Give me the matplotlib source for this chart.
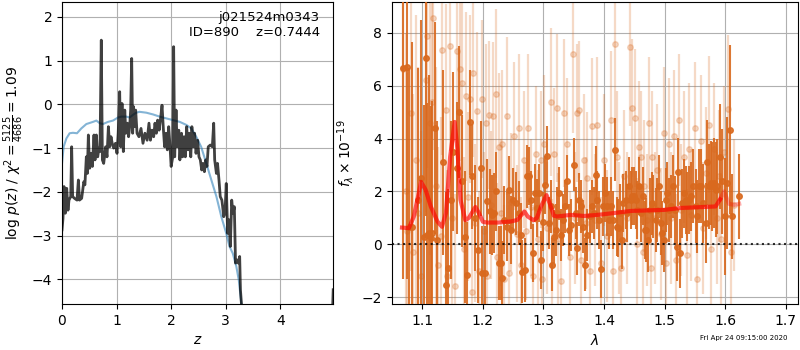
import numpy as np
import matplotlib
matplotlib.use('Agg')
import matplotlib.pyplot as plt

## p(z) panel
z_pz = [0.0, 0.018, 0.037, 0.061, 0.086, 0.11, 0.128, 0.16, 0.177, 0.195, 0.23, 0.275,
        0.30, 0.32, 0.36, 0.40, 0.42, 0.446, 0.464, 0.483, 0.507, 0.53, 0.556, 0.586,
        0.605, 0.63, 0.654, 0.678, 0.696, 0.72, 0.74, 0.764, 0.80, 0.825, 0.85, 0.874,
        0.898, 0.92, 0.947, 0.98, 1.008, 1.03, 1.057, 1.075, 1.10, 1.124, 1.15, 1.17,
        1.197, 1.22, 1.24, 1.258, 1.277, 1.295, 1.31, 1.33, 1.35, 1.375, 1.41, 1.448,
        1.484, 1.52, 1.56, 1.594, 1.62, 1.65, 1.68, 1.704, 1.73, 1.753, 1.78, 1.81,
        1.833, 1.857, 1.88, 1.906, 1.93, 1.955, 1.98, 2.0, 2.03, 2.046, 2.065, 2.09,
        2.11, 2.14, 2.16, 2.19, 2.21, 2.236, 2.26, 2.285, 2.31, 2.33, 2.36, 2.38, 2.41,
        2.43, 2.456, 2.486, 2.51, 2.535, 2.56, 2.584, 2.61, 2.633, 2.657, 2.68, 2.718,
        2.755, 2.78, 2.798, 2.83, 2.85, 2.877, 2.90, 2.93, 2.944, 2.963, 2.987, 3.01,
        3.036, 3.06, 3.085, 3.11, 3.134, 3.158, 3.18, 3.21, 3.23, 3.256, 3.27, 3.29,
        3.35, 4.0, 4.9, 4.97]
logpz = [-2.87, -2.61, -1.88, -2.49, -1.92, -2.42, -2.19, -2.11, -0.97, -2.11, -2.15, -2.19,
         -1.73, -2.19, -2.15, -1.77, -1.84, -1.20, -1.58, -0.70, -1.46, -1.12, -1.42, -0.70,
         -1.27, -0.70, -1.20, -1.00, -1.08, 1.47, -1.27, -1.35, -0.97, -1.20, -0.51, -0.97,
         -0.74, -0.89, -1.00, -0.89, -1.12, -0.66, 0.29, -0.97, 0.02, -1.08, -0.13, -0.66,
         -0.43, -0.74, -0.51, -0.13, 1.05, -0.66, -0.05, -0.51, -0.13, -0.66, -0.74, -0.55,
         -0.89, -0.66, -0.82, -0.43, -0.82, -0.59, -0.74, -0.43, -0.66, -0.36, -0.59, -0.28,
         -0.02, -0.55, -0.97, -0.66, -1.04, -0.51, -0.97, -1.42, -1.20, 1.32, -1.20, -0.13,
         -0.97, -0.59, -1.27, -0.66, -1.20, -0.74, -1.20, -0.51, -1.04, -0.66, -1.20, -0.51, -0.97,
         -0.66, -1.12, -0.82, -1.20, -1.27, -1.50, -1.35, -1.54, -1.27, -1.42, -0.97, -0.93,
         -0.97, -0.43, -1.27, -1.58, -1.35, -1.73, -2.11, -2.19, -2.34, -2.57, -2.49, -1.81,
         -2.95, -2.64, -3.25, -2.19, -2.49, -2.34, -3.63, -3.56, -3.63, -3.48, -4.24, -4.59,
         -6.5, -9.0, -7.0, -4.24]

z_prior = [0.0, 0.03, 0.08, 0.14, 0.2, 0.275, 0.354, 0.446, 0.568, 0.63, 0.69, 0.75, 0.843,
           0.935, 1.026, 1.087, 1.18, 1.24, 1.30, 1.36, 1.42, 1.545, 1.668, 1.79, 1.91, 2.034,
           2.157, 2.28, 2.37, 2.46, 2.55, 2.645, 2.737, 2.83, 2.92, 3.01, 3.07, 3.13, 3.195,
           3.24, 3.29, 3.35]
logprior = [-1.35, -0.97, -0.78, -0.66, -0.65, -0.66, -0.55, -0.45, -0.40, -0.37, -0.43,
            -0.45, -0.40, -0.37, -0.30, -0.28, -0.28, -0.30, -0.24, -0.19, -0.17, -0.19, -0.23,
            -0.28, -0.32, -0.36, -0.40, -0.47, -0.55, -0.74, -0.97, -1.35, -1.73, -2.11, -2.57,
            -2.95, -3.25, -3.41, -3.71, -4.02, -4.59, -5.5]

## spectrum panel, high weight points
wave_a = [1.0687, 1.0742, 1.0780, 1.0835, 1.0929, 1.0973, 1.1028, 1.1055, 1.1083, 1.1110,
          1.1138, 1.1165, 1.1204, 1.1248, 1.1341, 1.1385, 1.1424, 1.1468, 1.1512, 1.1567,
          1.1605, 1.1660, 1.1704, 1.1743, 1.1787, 1.1825, 1.1869, 1.1924, 1.1963, 1.1990,
          1.2029, 1.2073, 1.2117, 1.2155, 1.2183, 1.2221, 1.2265, 1.2293, 1.2320, 1.2348,
          1.2392, 1.2430, 1.2458, 1.2502, 1.2540, 1.2595, 1.2623, 1.2650, 1.2694, 1.2733,
          1.2760, 1.2788, 1.2826, 1.2854, 1.2887, 1.2925, 1.2958, 1.2997, 1.3024, 1.3052,
          1.3090, 1.3118, 1.3140, 1.3173, 1.3200, 1.3228, 1.3255, 1.3283, 1.3321, 1.3354,
          1.3393, 1.3420, 1.3448, 1.3503, 1.3536, 1.3558, 1.3591, 1.3624, 1.3657, 1.3685,
          1.3723, 1.3767, 1.3805, 1.3833, 1.3866, 1.3888, 1.3921, 1.3954, 1.3987, 1.4014,
          1.4053, 1.4086, 1.4119, 1.4152, 1.4179, 1.4207, 1.4229, 1.4262, 1.4289, 1.4317,
          1.4355, 1.4383, 1.4410, 1.4438, 1.4465, 1.4493, 1.4520, 1.4548, 1.4575, 1.4603,
          1.4636, 1.4669, 1.4696, 1.4724, 1.4757, 1.4784, 1.4812, 1.4850, 1.4878, 1.4905,
          1.4933, 1.4960, 1.4988, 1.5015, 1.5043, 1.5070, 1.5098, 1.5131, 1.5164, 1.5197,
          1.5219, 1.5252, 1.5290, 1.5318, 1.5345, 1.5373, 1.5400, 1.5428, 1.5472, 1.5510,
          1.5538, 1.5565, 1.5604, 1.5637, 1.5675, 1.5703, 1.5730, 1.5758, 1.5785, 1.5813,
          1.5840, 1.5868, 1.5912, 1.5950, 1.5994, 1.6033, 1.6071, 1.6115, 1.6225]
flux_a = [6.68, 6.70, 0.67, 0.67, 1.68, 2.50, 0.29, 7.05, 0.35, 0.42, 0.23, 0.42, 4.40, 0.16,
          3.11, -1.54, -0.91, 1.68, 3.51, 2.88, 5.01, 2.38, 0.29, -1.16, 4.61, 2.57, 0.99,
          -0.21, 2.88, -1.10, -1.10, 1.62, 1.24, 1.11, 1.18, 2.00, -0.72, -0.72, -1.29, 0.92,
          0.67, 2.06, 0.54, 1.68, 1.55, 1.18, 0.35, -1.04, -0.97, 2.57, 2.57, 1.68, -0.34,
          1.93, 1.37, 1.93, -0.59, 0.86, 2.25, 3.36, 0.80, 1.43, -0.78, 0.29, 0.54, 1.18, 1.93,
          0.35, 0.92, 1.43, 2.38, 0.54, 0.73, 3.01, 1.18, -0.15, 1.68, 1.43, 0.67, -0.78, 0.35,
          1.05, 1.43, 1.18, 2.63, 1.68, 0.92, -0.95, 1.43, 1.93, 1.43, 0.92, 1.43, 0.92, 3.58,
          0.67, 0.61, 1.18, 0.16, 1.55, 1.68, 1.18, 2.19, 1.68, 1.81, 1.81, 1.68, 1.30, 2.19,
          1.18, 1.81, 0.54, 0.54, 0.16, 1.30, 1.55, 1.43, 0.92, 1.30, 2.19, 0.80, 0.42, 0.16,
          1.68, 1.93, 1.30, 1.43, 2.19, 1.30, -0.09, 2.73, -0.34, 1.55, 1.93, 1.68, 1.43, 1.68,
          1.81, 2.19, 1.43, 1.05, 2.19, 2.19, 1.55, 0.80, 3.10, 2.19, 2.31, 2.19, 2.31, 2.06,
          2.19, 3.32, 2.38, 1.05, 2.31, 4.34, 1.05, 1.81]
err_a = [8, 8, 6, 7, 5, 6, 5, 6, 5, 6, 5, 5, 4, 4.5, 3.5, 3.5, 3, 3, 3, 2.5, 2.5, 2.5, 2.5,
         2, 2, 2, 2, 2, 1.8, 1.8, 1.8, 1.6, 1.6, 1.5, 1.5, 1.5, 1.4, 1.4, 1.4, 1.3, 1.3, 1.3,
         1.3, 1.2, 1.2, 1.2, 1.2, 1.2, 1.2, 1.2, 1.1, 1.1, 1.1, 1.1, 1.1, 1.1, 1.1, 1.1, 1.1,
         1.1, 1.0, 1.0, 1.0, 1.0, 1.0, 1.0, 1.0, 1.0, 1.0, 1.0, 1.0, 1.0, 1.0, 1.0, 1.0, 1.0,
         1.0, 1.0, 1.0, 1.0, 1.0, 1.0, 1.0, 1.0, 1.1, 1.1, 1.1, 1.1, 1.1, 1.1, 1.1, 1.1, 1.1,
         1.1, 1.2, 1.1, 1.1, 1.1, 1.1, 1.1, 1.1, 1.1, 1.1, 1.1, 1.1, 1.1, 1.1, 1.1, 1.1, 1.1,
         1.1, 1.1, 1.2, 1.2, 1.2, 1.2, 1.2, 1.2, 1.2, 1.2, 1.2, 1.2, 1.2, 1.2, 1.2, 1.2, 1.2,
         1.2, 1.3, 1.3, 1.3, 1.3, 1.3, 1.3, 1.3, 1.3, 1.3, 1.3, 1.4, 1.4, 1.4, 1.4, 1.4, 1.5,
         1.5, 1.6, 1.6, 1.6, 1.7, 1.7, 1.8, 1.8, 2.0, 2.0, 2.2, 2.5, 3.2, 1.6, 1.6]

## low weight points
wave_b = [1.0687, 1.0725, 1.0753, 1.0808, 1.0852, 1.0890, 1.0929, 1.0972, 1.1055, 1.1083,
          1.1121, 1.1154, 1.1176, 1.1220, 1.1259, 1.1303, 1.1330, 1.1385, 1.1413, 1.1451,
          1.1495, 1.1534, 1.1567, 1.1622, 1.1660, 1.1688, 1.1715, 1.1754, 1.1787, 1.1814,
          1.1842, 1.1869, 1.1897, 1.1935, 1.1990, 1.2018, 1.2045, 1.2073, 1.2100, 1.2128,
          1.2172, 1.2210, 1.2238, 1.2265, 1.2293, 1.2320, 1.2348, 1.2403, 1.2430, 1.2458,
          1.2513, 1.2557, 1.2595, 1.2634, 1.2678, 1.2705, 1.2744, 1.2788, 1.2826, 1.2870,
          1.2909, 1.2953, 1.2980, 1.3008, 1.3063, 1.3118, 1.3145, 1.3173, 1.3217, 1.3244,
          1.3283, 1.3338, 1.3393, 1.3437, 1.3492, 1.3520, 1.3547, 1.3585, 1.3624, 1.3668,
          1.3695, 1.3723, 1.3767, 1.3805, 1.3844, 1.3888, 1.3943, 1.3998, 1.4042, 1.4108,
          1.4141, 1.4179, 1.4218, 1.4251, 1.4284, 1.4328, 1.4372, 1.4427, 1.4465, 1.4504,
          1.4537, 1.4575, 1.4603, 1.4636, 1.4658, 1.4702, 1.4740, 1.4768, 1.4795, 1.4834,
          1.4878, 1.4933, 1.4988, 1.5021, 1.5070, 1.5109, 1.5153, 1.5186, 1.5235, 1.5274,
          1.5318, 1.5362, 1.5400, 1.5439, 1.5493, 1.5538, 1.5593, 1.5631, 1.5675, 1.5730,
          1.5769, 1.5813, 1.5857, 1.5895, 1.5923, 1.5978, 1.6049, 1.6088, 1.6143]
flux_b = [6.64, 2.0, 0.5, 4.97, -0.3, 3.2, 1.2, -1.2, 6.23, 7.9, 4.6, 5.4, 8.55, 2.2, -0.8,
          0.3, 7.37, 5.1, -1.2, 7.52, 1.0, -1.6, 7.33, 6.64, 6.1, -0.2, 5.6, 1.8, 5.5, -1.8,
          6.5, 0.8, 5.03, -1.0, 5.5, 0.5, 4.6, -1.2, 4.9, 1.5, 4.85, 5.69, -0.5, 3.7, 1.2,
          3.8, -1.3, 4.85, -1.1, 1.6, 4.1, 0.4, 4.4, -0.8, 3.2, 0.5, 4.4, 1.4, -1.2, 3.4, 0.2,
          3.2, -1.3, 3.8, 0.6, 5.4, -0.8, 3.4, 5.16, 0.2, -1.4, 4.97, 3.8, -0.5, 7.2, 1.0,
          4.97, 5.1, -0.6, 3.2, 0.8, 2.5, -1.0, 4.46, 0.9, 4.5, -0.7, 3.2, 0.3, 4.7, -1.0,
          7.6, 3.3, 0.6, -0.9, 2.6, 1.0, 7.47, 5.16, 4.78, 0.0, 3.7, 3.3, -0.3, 2.2, 0.9, 4.6,
          -0.9, 3.3, 1.0, 2.8, 0.4, 4.2, -0.7, 3.8, 1.0, 4.1, -0.6, 4.72, 1.3, 3.3, -0.4, 3.6,
          1.1, 4.4, -1.3, 3.9, 0.6, 2.7, 4.53, -0.2, 3.6, 1.0, 2.6, 0.2, 3.5, 5.12, -0.3, 1.5]
err_b = [6, 6, 6, 6, 6, 5.5, 5.5, 5.5, 5, 5, 5, 5, 5, 4.5, 4.5, 4.5, 4, 4, 4, 4, 3.5, 3.5,
         3.5, 3.5, 3.5, 3.5, 3.2, 3.2, 3.2, 3.2, 3.2, 3.0, 3.0, 3.0, 3.0, 3.0, 3.0, 2.8, 2.8,
         2.8, 2.8, 3.2, 2.8, 2.8, 2.8, 2.8, 2.8, 3.0, 2.6, 2.6, 2.8, 2.6, 2.8, 2.6, 2.6, 2.6,
         2.8, 2.6, 2.6, 2.6, 2.6, 2.6, 2.6, 2.6, 2.5, 2.8, 2.5, 2.5, 2.8, 2.5, 2.5, 2.8, 2.5,
         2.5, 3.0, 2.5, 2.6, 2.6, 2.5, 2.5, 2.5, 2.5, 2.5, 2.6, 2.5, 2.6, 2.5, 2.5, 2.5, 2.6,
         2.5, 3.0, 2.5, 2.5, 2.5, 2.5, 2.5, 3.0, 2.6, 2.6, 2.5, 2.5, 2.5, 2.5, 2.5, 2.5, 2.5,
         2.5, 2.5, 2.5, 2.5, 2.5, 2.5, 2.5, 2.5, 2.5, 2.5, 2.5, 2.5, 2.5, 2.5, 2.5, 2.5, 2.5,
         2.5, 2.5, 2.5, 2.5, 2.5, 2.6, 2.5, 2.5, 2.5, 2.5, 2.5, 2.5, 2.8, 2.5, 2.5]

## best-fit model
wave_m = [1.0665, 1.078, 1.086, 1.093, 1.098, 1.1055, 1.114, 1.125, 1.1325, 1.139, 1.146,
          1.1534, 1.158, 1.163, 1.171, 1.177, 1.1876, 1.193, 1.200, 1.207, 1.224, 1.246,
          1.257, 1.2625, 1.2685, 1.274, 1.2835, 1.289, 1.296, 1.305, 1.311, 1.317, 1.3226,
          1.345, 1.367, 1.389, 1.416, 1.444, 1.471, 1.499, 1.525, 1.554, 1.584, 1.5915]
flux_m = [0.63, 0.61, 1.05, 1.81, 2.36, 2.06, 1.43, 0.86, 0.66, 1.18, 3.32, 4.63, 3.58,
          1.68, 0.91, 1.0, 1.41, 1.2, 0.85, 0.82, 0.82, 0.86, 0.92, 1.08, 1.24, 1.05, 0.91,
          0.99, 1.43, 1.86, 1.5, 1.08, 1.05, 1.11, 1.07, 1.11, 1.18, 1.26, 1.28, 1.30, 1.37,
          1.40, 1.43, 1.70]
wave_m2 = [1.5915, 1.598, 1.606, 1.615, 1.623]
flux_m2 = [1.70, 2.0, 1.53, 1.49, 1.53]

orange = '#d9691e'

fig = plt.figure(figsize=(8, 3.5), dpi=100)
ax1 = fig.add_axes([0.0775, 0.131, 0.339, 0.863])
ax2 = fig.add_axes([0.49, 0.131, 0.5075, 0.863])

ax1.plot(z_prior, logprior, color='#1f77b4', alpha=0.55, lw=1.5)
ax1.plot(z_pz, logpz, color='k', alpha=0.75, lw=2)
ax1.set_xlim(0, 4.97)
ax1.set_ylim(-4.57, 2.34)
ax1.set_xticks([0, 1, 2, 3, 4])
ax1.grid()
ax1.set_xlabel(r'$z$')
ax1.set_ylabel(r'$\log\,p(z)$ / $\chi^2=\frac{5125}{4686}=1.09$')
ax1.text(0.95, 0.97, 'j021524m0343\nID=890    z=0.7444', transform=ax1.transAxes,
         ha='right', va='top', fontsize=9.5)

ax2.errorbar(wave_b, flux_b, yerr=err_b, fmt='o', color=orange, alpha=0.25,
             ms=4, elinewidth=1.6, zorder=2)
ax2.errorbar(wave_a, flux_a, yerr=err_a, fmt='o', color=orange, alpha=0.9,
             ms=4, elinewidth=1.5, zorder=3)
ax2.plot(wave_m, flux_m, color='r', alpha=0.65, lw=3, zorder=5)
ax2.plot(wave_m2, flux_m2, color='r', alpha=0.3, lw=3, zorder=5)
ax2.axhline(0, color='k', linestyle=':', lw=1.5, alpha=0.8, zorder=6)
ax2.set_xlim(1.05, 1.72)
ax2.set_ylim(-2.27, 9.17)
ax2.set_xticks([1.1, 1.2, 1.3, 1.4, 1.5, 1.6, 1.7])
ax2.grid()
ax2.set_axisbelow(True)
ax2.set_xlabel(r'$\lambda$')
ax2.set_ylabel(r'$f_\lambda\times10^{-19}$')

fig.text(0.985, 0.025, 'Fri Apr 24 09:15:00 2020', ha='right', va='bottom', fontsize=5)

plt.savefig('out.png', dpi=100)
